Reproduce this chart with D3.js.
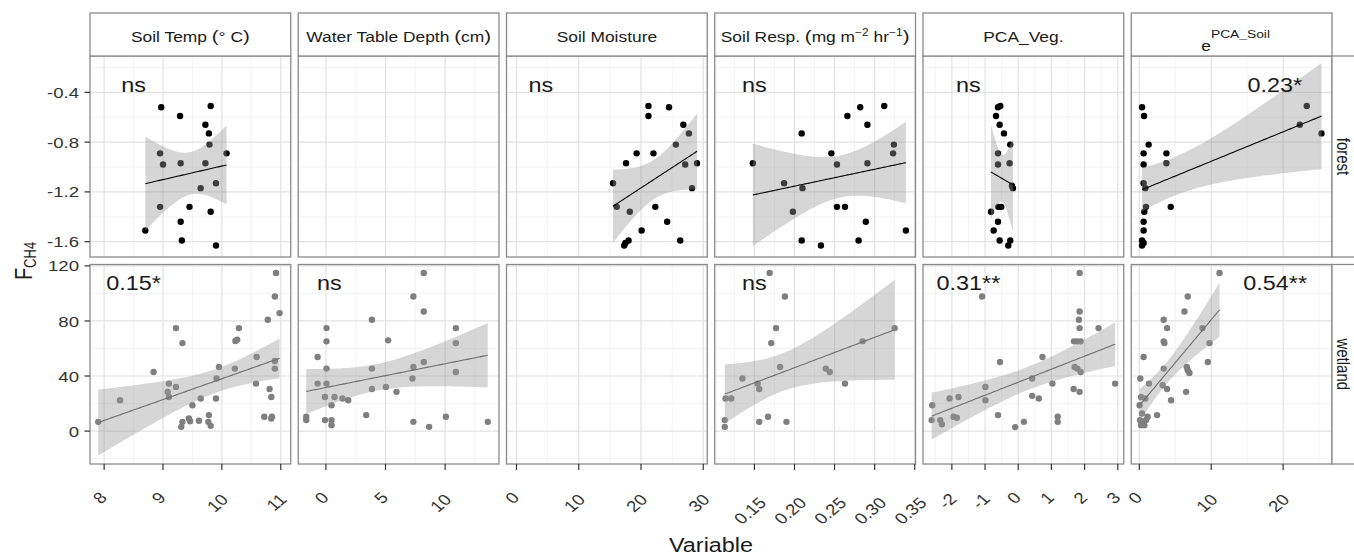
<!DOCTYPE html>
<html><head><meta charset="utf-8">
<script src="https://cdn.jsdelivr.net/npm/d3@7"></script>
<style>body{margin:0;background:#fff} svg{display:block} text{font-family:"Liberation Sans", Arial, sans-serif}</style>
</head><body><svg id="c" width="1354" height="558"></svg>
<script>
// ---------------- data ----------------
const rowNames = ["forest", "wetland"];
const xDomains = [[7.76, 11.17], [-2.32, 14.52], [-1.6, 30.64], [0.1005, 0.351], [-2.87, 3.18], [-1.12, 26.8]];
const yDomains = [[-1.723, -0.108], [-23.9, 121]];
const xTicks = [[8, 9, 10, 11], [0, 5, 10], [0, 10, 20, 30], [0.15, 0.20, 0.25, 0.30, 0.35], [-2, -1, 0, 1, 2, 3], [0, 10, 20]];
const xTickLabels = [["8", "9", "10", "11"], ["0", "5", "10"], ["0", "10", "20", "30"], ["0.15", "0.20", "0.25", "0.30", "0.35"], ["-2", "-1", "0", "1", "2", "3"], ["0", "10", "20"]];
const xMinor = [[8.5, 9.5, 10.5], [2.5, 7.5, 12.5], [5, 15, 25], [0.125, 0.175, 0.225, 0.275, 0.325], [-2.5, -1.5, -0.5, 0.5, 1.5, 2.5], [5, 15, 25]];
const yTicks = [[-1.6, -1.2, -0.8, -0.4], [0, 40, 80, 120]];
const yTickLabels = [["-1.6", "-1.2", "-0.8", "-0.4"], ["0", "40", "80", "120"]];
const yMinor = [[-1.4, -1.0, -0.6, -0.2], [-20, 20, 60, 100]];

const forestSoilTemp = [[8.97,-0.52],[9.29,-0.59],[9.81,-0.51],[9.72,-0.66],[9.78,-0.73],[9.79,-0.82],[10.08,-0.89],[8.95,-0.89],[9.00,-0.98],[9.30,-0.97],[9.72,-0.97],[9.90,-1.13],[9.64,-1.17],[8.95,-1.32],[9.45,-1.32],[9.81,-1.36],[9.30,-1.44],[8.70,-1.51],[9.32,-1.59],[9.90,-1.63]];
const forestSoilMoisture = [[21.2,-0.51],[21.2,-0.59],[24.5,-0.52],[26.8,-0.66],[27.7,-0.73],[25.6,-0.82],[19.3,-0.89],[22.0,-0.89],[17.6,-0.97],[27.1,-0.98],[29.0,-0.97],[15.5,-1.13],[28.2,-1.17],[16.1,-1.32],[22.3,-1.32],[18.2,-1.36],[24.2,-1.44],[20.1,-1.51],[26.3,-1.59],[18.0,-1.59],[17.5,-1.61],[17.3,-1.63]];
const forestSoilResp = [[0.148,-0.97],[0.209,-0.73],[0.266,-0.59],[0.282,-0.52],[0.312,-0.51],[0.291,-0.66],[0.324,-0.82],[0.323,-0.89],[0.246,-0.89],[0.253,-0.98],[0.291,-0.97],[0.187,-1.13],[0.210,-1.17],[0.198,-1.36],[0.253,-1.32],[0.263,-1.32],[0.289,-1.44],[0.339,-1.51],[0.209,-1.59],[0.280,-1.59],[0.233,-1.63]];
const forestPcaVeg = [[-0.54,-0.51],[-0.61,-0.52],[-0.67,-0.59],[-0.56,-0.66],[-0.43,-0.73],[-0.24,-0.82],[-0.61,-0.89],[-0.61,-0.98],[-0.26,-0.97],[-0.16,-1.17],[-0.19,-1.15],[-0.60,-1.32],[-0.51,-1.32],[-0.82,-1.36],[-0.61,-1.44],[-0.74,-1.51],[-0.56,-1.59],[-0.24,-1.59],[-0.30,-1.63]];
const forestPcaSoil = [[0.38,-0.52],[0.66,-0.59],[1.30,-0.82],[0.60,-0.89],[0.60,-0.98],[3.77,-0.89],[3.77,-0.97],[0.60,-1.13],[0.84,-1.17],[0.93,-1.32],[0.70,-1.36],[4.37,-1.32],[0.60,-1.44],[0.60,-1.51],[0.38,-1.59],[0.38,-1.63],[0.60,-1.61],[23.29,-0.51],[22.32,-0.66],[25.34,-0.73]];

const wetlandSoilTemp = [[7.90,6.7],[8.27,22.4],[8.84,42.9],[9.22,74.8],[9.33,63.9],[9.10,34.5],[9.08,28.5],[9.10,24.8],[9.22,32.1],[9.50,18.8],[9.64,23.7],[9.33,6.7],[9.31,3.1],[9.44,9.2],[9.46,7.2],[9.61,7.5],[9.78,11.6],[9.77,6.7],[9.81,3.8],[9.90,23.7],[9.91,38.2],[9.95,46.6],[10.22,45.4],[10.23,65.4],[10.26,66.4],[10.29,74.8],[10.59,53.8],[10.58,34.5],[10.72,10.4],[10.78,80.9],[10.81,30.6],[10.84,24.8],[10.84,9.2],[10.90,97.8],[10.92,114.9],[10.98,85.7],[10.90,50.9],[10.90,45.4],[10.85,10.4]];
const wetlandWaterTable = [[-1.65,10.4],[-1.65,8.0],[-0.70,53.8],[-0.70,34.5],[0.05,74.8],[0.05,65.2],[0.05,45.4],[0.05,34.5],[-0.08,24.8],[-0.08,8.0],[0.47,18.8],[0.72,24.8],[0.47,8.0],[0.47,4.3],[1.39,23.7],[1.87,22.4],[3.38,11.6],[3.86,80.9],[3.86,45.4],[3.86,30.6],[5.03,32.1],[5.22,65.9],[5.92,28.5],[7.34,97.8],[7.34,46.6],[7.26,38.2],[7.34,6.7],[8.21,114.9],[8.21,86.9],[8.21,50.2],[8.66,3.1],[10.06,10.4],[10.90,74.8],[10.90,63.9],[10.90,42.9],[13.58,6.7]];
const wetlandSoilResp = [[0.113,8.0],[0.113,3.1],[0.114,23.7],[0.121,23.7],[0.135,38.2],[0.156,6.7],[0.167,10.4],[0.154,34.5],[0.156,30.6],[0.169,114.9],[0.188,97.8],[0.177,74.8],[0.171,63.9],[0.182,46.6],[0.190,6.7],[0.239,45.4],[0.244,42.9],[0.263,34.5],[0.285,65.2],[0.325,74.8]];
const wetlandPcaVeg = [[-2.59,18.8],[-2.61,8.0],[-2.35,8.0],[-2.30,4.9],[-2.07,23.7],[-1.95,10.4],[-1.85,9.7],[-1.80,24.8],[-1.09,97.8],[-0.99,32.1],[-0.99,22.4],[-0.61,11.6],[-0.55,50.2],[-0.09,2.9],[0.17,6.7],[0.42,38.2],[0.42,25.6],[0.62,23.7],[0.73,53.8],[1.03,34.5],[1.19,10.4],[1.19,6.7],[1.67,30.6],[1.85,28.5],[1.68,65.2],[1.78,65.2],[1.88,65.2],[1.83,80.9],[1.85,86.9],[1.85,74.8],[1.85,114.9],[1.70,46.6],[1.78,45.4],[1.88,42.9],[2.42,74.8],[2.92,34.5]];
const wetlandPcaSoil = [[11.16,114.9],[6.74,97.8],[6.28,86.9],[3.39,80.9],[3.86,74.8],[3.39,65.2],[3.49,64.0],[8.79,74.8],[9.76,63.9],[0.60,53.8],[9.53,50.2],[3.39,45.4],[6.60,46.6],[6.74,44.2],[6.97,42.2],[0.14,38.2],[1.35,34.5],[3.25,33.3],[3.86,30.6],[6.51,28.5],[0.24,24.8],[0.84,23.7],[4.42,22.4],[0.05,18.8],[2.47,11.6],[0.10,8.0],[0.46,6.7],[0.93,8.0],[0.24,4.3],[0.70,4.3],[1.16,10.4],[0.38,12.8]];

const panelData = [
  [forestSoilTemp, null, forestSoilMoisture, forestSoilResp, forestPcaVeg, forestPcaSoil],
  [wetlandSoilTemp, wetlandWaterTable, null, wetlandSoilResp, wetlandPcaVeg, wetlandPcaSoil]
];
const annoForest = [["ns", 8.5], null, ["ns", 3.9], ["ns", 0.15], ["ns", -1.5], ["0.23*", 18.85]];
const annoWetland = [["0.15*", 8.5], ["ns", 0.28], null, ["ns", 0.15], ["0.31**", -1.5], ["0.54**", 18.9]];
const annoY = [-0.395, 102.5];

// ---------------- layout ----------------
const SX = 1.2;
const svg = d3.select("#c");
const panelX0 = 90, panelW = 200.75, panelStep = 208.25;
const rowY = [56, 264.5], rowH = [201, 199.5];
const stripTop = 13;
const ptColor = ["#000", "#7f7f7f"];
const lnColor = ["#000", "#6e6e6e"];
const borderColor = "#8a8a8a";

function tq975(df) {
  const z = 1.959964, z3 = z*z*z, z5 = z3*z*z;
  return z + (z3+z)/(4*df) + (5*z5+16*z3+3*z)/(96*df*df) + (3*z5*z*z+19*z5+17*z3-15*z)/(384*df*df*df);
}
function lmBand(pts) {
  const n = pts.length;
  const xbar = d3.mean(pts, d => d[0]), ybar = d3.mean(pts, d => d[1]);
  let sxx = 0, sxy = 0;
  pts.forEach(d => { sxx += (d[0]-xbar)**2; sxy += (d[0]-xbar)*(d[1]-ybar); });
  const b = sxy / sxx, a = ybar - b * xbar;
  let sse = 0; pts.forEach(d => { sse += (d[1] - a - b*d[0])**2; });
  const s = Math.sqrt(sse / (n - 2)), t = tq975(n - 2);
  const [x0, x1] = d3.extent(pts, d => d[0]);
  return d3.range(80).map(i => {
    const x = x0 + (x1 - x0) * i / 79;
    const yh = a + b * x;
    const se = s * Math.sqrt(1/n + (x - xbar)**2 / sxx);
    return {x, y: yh, lo: yh - t*se, hi: yh + t*se};
  });
}

const defs = svg.append("defs");

for (let r = 0; r < 2; r++) {
  for (let c = 0; c < 6; c++) {
    const x0 = panelX0 + c * panelStep, y0 = rowY[r], h = rowH[r];
    const xs = d3.scaleLinear().domain(xDomains[c]).range([x0, x0 + panelW]);
    const ys = d3.scaleLinear().domain(yDomains[r]).range([y0 + h, y0]);
    const id = `clip${r}${c}`;
    defs.append("clipPath").attr("id", id).append("rect").attr("x", x0).attr("y", y0).attr("width", panelW).attr("height", h);
    const g = svg.append("g");
    const gc = g.append("g").attr("clip-path", `url(#${id})`);
    // grid
    gc.selectAll(".mnx").data(xMinor[c]).join("line").attr("x1", d => xs(d)).attr("x2", d => xs(d)).attr("y1", y0).attr("y2", y0 + h).attr("stroke", "#f1f1f1").attr("stroke-width", 0.8);
    gc.selectAll(".mny").data(yMinor[r]).join("line").attr("y1", d => ys(d)).attr("y2", d => ys(d)).attr("x1", x0).attr("x2", x0 + panelW).attr("stroke", "#f1f1f1").attr("stroke-width", 0.8);
    gc.selectAll(".mjx").data(xTicks[c]).join("line").attr("x1", d => xs(d)).attr("x2", d => xs(d)).attr("y1", y0).attr("y2", y0 + h).attr("stroke", "#e2e2e2").attr("stroke-width", 1.2);
    gc.selectAll(".mjy").data(yTicks[r]).join("line").attr("y1", d => ys(d)).attr("y2", d => ys(d)).attr("x1", x0).attr("x2", x0 + panelW).attr("stroke", "#e2e2e2").attr("stroke-width", 1.2);
    const data = panelData[r][c];
    if (data) {
      gc.selectAll(".pt").data(data).join("circle").attr("cx", d => xs(d[0])).attr("cy", d => ys(d[1])).attr("r", 3.2).attr("fill", ptColor[r]);
      const band = lmBand(data);
      gc.append("path").datum(band).attr("d", d3.area().x(d => xs(d.x)).y0(d => ys(d.lo)).y1(d => ys(d.hi))).attr("fill", "#999").attr("fill-opacity", 0.4);
      gc.append("path").datum(band).attr("d", d3.line().x(d => xs(d.x)).y(d => ys(d.y))).attr("fill", "none").attr("stroke", lnColor[r]).attr("stroke-width", 1.1);
    }
    const an = (r === 0 ? annoForest : annoWetland)[c];
    if (an) {
      g.append("text").attr("transform", `translate(${xs(an[1])},${ys(annoY[r])}) scale(${SX},1)`)
        .attr("text-anchor", "middle").attr("font-size", 19.5).attr("fill", "#1a1a1a").text(an[0]);
    }
    g.append("rect").attr("x", x0).attr("y", y0).attr("width", panelW).attr("height", h).attr("fill", "none").attr("stroke", borderColor).attr("stroke-width", 1.3);

    // y axis on first column
    if (c === 0) {
      yTicks[r].forEach((t, i) => {
        g.append("line").attr("x1", x0 - 5.5).attr("x2", x0).attr("y1", ys(t)).attr("y2", ys(t)).attr("stroke", "#333").attr("stroke-width", 1.2);
        g.append("text").attr("transform", `translate(${x0 - 11},${ys(t)}) scale(${SX},1)`).attr("text-anchor", "end").attr("dy", "0.36em")
          .attr("font-size", 15.5).attr("fill", "#333").text(yTickLabels[r][i]);
      });
    }
    // x axis on bottom row
    if (r === 1) {
      xTicks[c].forEach((t, i) => {
        g.append("line").attr("x1", xs(t)).attr("x2", xs(t)).attr("y1", y0 + h).attr("y2", y0 + h + 6).attr("stroke", "#333").attr("stroke-width", 1.2);
        const tx = g.append("text").attr("text-anchor", "middle").attr("dominant-baseline", "central")
          .attr("font-size", 15.5).attr("fill", "#333").text(xTickLabels[c][i]);
        const w = tx.node().getComputedTextLength();
        tx.attr("transform", `translate(${xs(t) - 4},${493 + 0.6 * w}) scale(${SX},1) rotate(-45)`);
      });
    }
  }
}

// ---------------- strips ----------------
for (let c = 0; c < 6; c++) {
  const x0 = panelX0 + c * panelStep;
  svg.append("rect").attr("x", x0).attr("y", stripTop).attr("width", panelW).attr("height", rowY[0] - stripTop).attr("fill", "#fff").attr("stroke", borderColor).attr("stroke-width", 1.3);
}
function stripText(c, parts, baseY) {
  const cx = panelX0 + c * panelStep + panelW / 2;
  const t = svg.append("text").attr("transform", `translate(${cx},${baseY}) scale(${SX},1)`).attr("text-anchor", "middle")
    .attr("font-size", 14.5).attr("fill", "#1a1a1a");
  parts.forEach(p => {
    const s = t.append("tspan").text(p.t);
    if (p.fs) s.attr("font-size", p.fs);
    if (p.dy) s.attr("dy", p.dy);
  });
  return t;
}
stripText(0, [{t: "Soil Temp "}, {t: "(", fs: 17}, {t: "° C"}, {t: ")", fs: 17}], 42);
stripText(1, [{t: "Water Table Depth "}, {t: "(", fs: 17}, {t: "cm"}, {t: ")", fs: 17}], 42);
stripText(2, [{t: "Soil Moisture"}], 42);
stripText(3, [{t: "Soil Resp. "}, {t: "(", fs: 17}, {t: "mg m"}, {t: "−2", fs: 10, dy: -6}, {t: " hr", dy: 6}, {t: "−1", fs: 10, dy: -6}, {t: ")", fs: 17, dy: 6}], 42);
stripText(4, [{t: "PCA_Veg."}], 42);
stripText(5, [{t: "e"}, {t: "PCA_Soil", fs: 11.5, dy: -13}], 51).attr("transform", `translate(${panelX0 + 5 * panelStep + panelW / 2 + 4},51) scale(${SX},1)`);

// right strips
const rsX = panelX0 + 5 * panelStep + panelW;
for (let r = 0; r < 2; r++) {
  svg.append("rect").attr("x", rsX).attr("y", rowY[r]).attr("width", 40).attr("height", rowH[r]).attr("fill", "#fff").attr("stroke", borderColor).attr("stroke-width", 1.3);
  svg.append("text").attr("transform", `translate(${rsX + 11},${rowY[r] + rowH[r] / 2}) scale(${SX},1) rotate(90)`)
    .attr("text-anchor", "middle").attr("dy", "0.36em").attr("font-size", 15).attr("fill", "#1a1a1a").text(rowNames[r]);
}

// axis titles
svg.append("text").attr("transform", `translate(${panelX0 + (rsX - panelX0) / 2},552) scale(${SX},1)`).attr("text-anchor", "middle")
  .attr("font-size", 19.5).attr("fill", "#1a1a1a").text("Variable");
const yl = svg.append("text").attr("transform", `translate(31.5,261) scale(${SX},1) rotate(-90)`).attr("text-anchor", "middle")
  .attr("font-size", 20).attr("fill", "#1a1a1a");
yl.append("tspan").text("F");
yl.append("tspan").attr("font-size", 13).attr("dy", 4).text("CH4");
</script></body></html>
